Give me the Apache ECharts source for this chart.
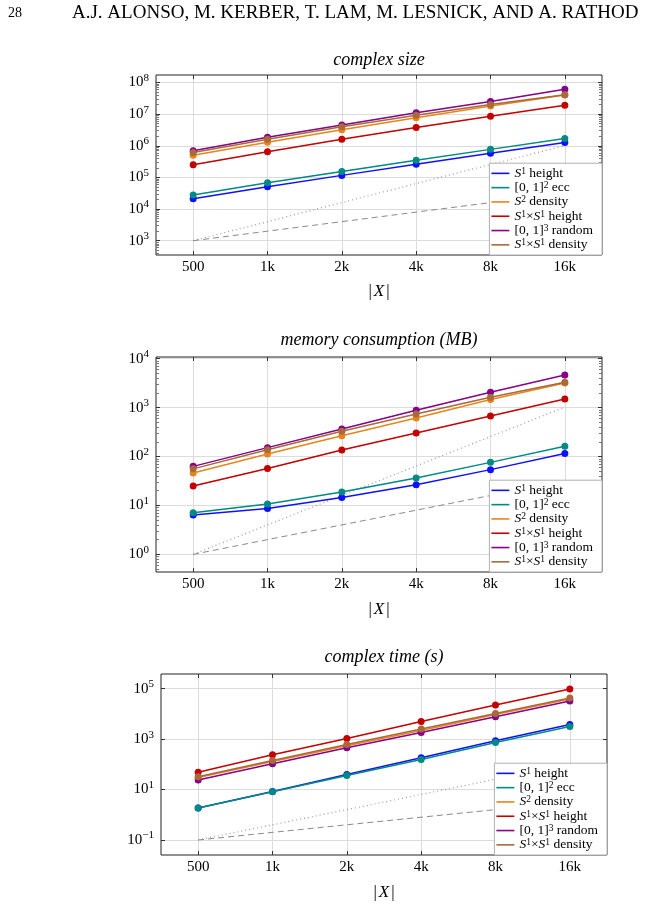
<!DOCTYPE html>
<html>
<head>
<meta charset="utf-8">
<script src="https://cdn.jsdelivr.net/npm/echarts@6/dist/echarts.min.js"></script>
<style>
  html, body { margin: 0; background: #fff; }
  #main { width: 647px; height: 906px; }
</style>
</head>
<body>
<div id="main"></div>
<script>
// x: number of points |X|
var xValues = [500, 1000, 2000, 4000, 8000, 16000];
var xLabels = ['500', '1k', '2k', '4k', '8k', '16k'];

var seriesNames = ['S1 height', '[0,1]2 ecc', 'S2 density', 'S1xS1 height', '[0,1]3 random', 'S1xS1 density'];
var seriesColors = ['#1010ff', '#008a85', '#e8841c', '#c40000', '#86008a', '#a9693a'];
var legendLabels = {
  'S1 height': '{i|S}{s|1} height',
  '[0,1]2 ecc': '[0, 1]{s|2} ecc',
  'S2 density': '{i|S}{s|2} density',
  'S1xS1 height': '{i|S}{s|1}×{i|S}{s|1} height',
  '[0,1]3 random': '[0, 1]{s|3} random',
  'S1xS1 density': '{i|S}{s|1}×{i|S}{s|1} density'
};

// complex size
var sizeS1Height     = [2.1e4, 5.1e4, 1.16e5, 2.6e5, 5.8e5, 1.26e6];
var sizeSquareEcc    = [2.8e4, 6.8e4, 1.55e5, 3.5e5, 7.7e5, 1.7e6];
var sizeS2Density    = [5.0e5, 1.3e6, 3.2e6, 7.7e6, 1.8e7, 4.0e7];
var sizeTorusHeight  = [2.5e5, 6.5e5, 1.6e6, 3.8e6, 8.6e6, 1.9e7];
var sizeCubeRandom   = [7.0e5, 1.86e6, 4.5e6, 1.1e7, 2.5e7, 6.1e7];
var sizeTorusDensity = [6.1e5, 1.6e6, 4.0e6, 9.3e6, 2.0e7, 4.1e7];
var sizeQuad = [1e3, 4e3, 1.6e4, 6.4e4, 2.56e5, 1.024e6];
var sizeLin  = [1e3, 2e3, 4e3, 8e3, 1.6e4, 3.2e4];
var sizeTicks = [1e3, 1e4, 1e5, 1e6, 1e7, 1e8];

// memory consumption (MB)
var memS1Height     = [6.4, 8.7, 14.6, 26.6, 54, 115];
var memSquareEcc    = [7.1, 10.7, 18.8, 36.5, 76, 162];
var memS2Density    = [46, 113, 267, 615, 1460, 3190];
var memTorusHeight  = [25, 57, 136, 303, 676, 1500];
var memCubeRandom   = [63, 152, 366, 881, 2060, 4660];
var memTorusDensity = [56, 138, 328, 741, 1630, 3300];
var memQuad = [1, 4, 16, 64, 256, 1024];
var memLin  = [1, 2, 4, 8, 16, 32];
var memTicks = [1, 10, 100, 1000, 10000];

// complex time (s)
var timeS1Height     = [1.87, 8.3, 39.5, 181, 860, 3830];
var timeSquareEcc    = [1.86, 8.2, 36, 156, 738, 3180];
var timeS2Density    = [30, 129, 544, 2210, 9550, 38900];
var timeTorusHeight  = [49, 238, 1060, 5030, 22400, 97000];
var timeCubeRandom   = [24, 105, 453, 1840, 7710, 32400];
var timeTorusDensity = [32, 142, 614, 2500, 10500, 42500];
var timeQuad = [0.1, 0.4, 1.6, 6.4, 25.6, 102.4];
var timeLin  = [0.1, 0.2, 0.4, 0.8, 1.6, 3.2];
var timeTicks = [0.1, 10, 1000, 100000];

var FONT = '"Liberation Serif", "DejaVu Serif", serif';

function minorOf(ticks, lo, hi) {
  var out = [];
  for (var d = -3; d <= 9; d++) {
    for (var k = 2; k <= 9; k++) {
      var v = k * Math.pow(10, d);
      if (v > lo && v < hi) out.push(v);
    }
  }
  return out;
}

function powLabel(v) {
  var e = Math.round(Math.log10(v));
  return '{b|10}{s|' + (e < 0 ? '−' + (-e) : e) + '}';
}

function xLabel(v) {
  var best = 0;
  for (var j = 1; j < xValues.length; j++) {
    if (Math.abs(Math.log(v / xValues[j])) < Math.abs(Math.log(v / xValues[best]))) best = j;
  }
  return xLabels[best];
}

var charts = [
  { title: 'complex size', grid: { left: 156, top: 75, width: 446, height: 180 },
    yMin: 353, yMax: 1.726e8, ticks: sizeTicks, minor: true,
    data: [sizeS1Height, sizeSquareEcc, sizeS2Density, sizeTorusHeight, sizeCubeRandom, sizeTorusDensity],
    quad: sizeQuad, lin: sizeLin, titleY: 60, nameY: 292, legend: { right: 45, bottom: 651 } },
  { title: 'memory consumption (MB)', grid: { left: 156, top: 357, width: 446, height: 215 },
    yMin: 0.436, yMax: 10840, ticks: memTicks, minor: true,
    data: [memS1Height, memSquareEcc, memS2Density, memTorusHeight, memCubeRandom, memTorusDensity],
    quad: memQuad, lin: memLin, titleY: 340, nameY: 610, legend: { right: 45, bottom: 334 } },
  { title: 'complex time (s)', grid: { left: 161, top: 674, width: 446, height: 181 },
    yMin: 0.02535, yMax: 383700, ticks: timeTicks, minor: false,
    data: [timeS1Height, timeSquareEcc, timeS2Density, timeTorusHeight, timeCubeRandom, timeTorusDensity],
    quad: timeQuad, lin: timeLin, titleY: 657, nameY: 893, legend: { right: 40, bottom: 51 } }
];

var grids = [], xAxes = [], yAxes = [], series = [], legends = [], graphics = [];

charts.forEach(function (c, i) {
  grids.push({
    left: c.grid.left, top: c.grid.top, width: c.grid.width, height: c.grid.height,
    show: true, borderColor: '#222', borderWidth: 1, backgroundColor: 'transparent',
    outerBoundsMode: 'none'
  });

  var xIndex = xAxes.length;
  ['bottom', 'top'].forEach(function (pos) {
    xAxes.push({
      type: 'log', logBase: 2, gridIndex: i, position: pos,
      min: 353.55, max: 22627.4,
      axisLine: { show: false },
      axisTick: { show: true, inside: true, length: 4, customValues: xValues, lineStyle: { color: '#333' } },
      axisLabel: pos === 'bottom' ? {
        customValues: xValues, formatter: xLabel, margin: 5,
        fontFamily: FONT, fontSize: 15, color: '#000'
      } : { show: false },
      splitLine: { show: pos === 'bottom', lineStyle: { color: '#dcdcdc', width: 1 } }
    });
  });

  var yIndex = yAxes.length;
  var minor = c.minor ? minorOf(c.ticks, c.yMin, c.yMax) : [];
  ['left', 'right'].forEach(function (pos) {
    yAxes.push({
      type: 'log', logBase: 10, gridIndex: i, position: pos,
      min: c.yMin, max: c.yMax,
      axisLine: { show: false },
      axisTick: { show: true, inside: true, length: 4, customValues: c.ticks, lineStyle: { color: '#333' } },
      axisLabel: pos === 'left' ? {
        customValues: c.ticks, formatter: powLabel, margin: 7, color: '#000',
        rich: {
          b: { fontFamily: FONT, fontSize: 15, lineHeight: 20, color: '#000' },
          s: { fontFamily: FONT, fontSize: 11, lineHeight: 12, verticalAlign: 'top', color: '#000' }
        }
      } : { show: false },
      splitLine: { show: pos === 'left', lineStyle: { color: '#dcdcdc', width: 1 } }
    });
    if (minor.length) {
      yAxes.push({
        type: 'log', logBase: 10, gridIndex: i, position: pos,
        min: c.yMin, max: c.yMax,
        axisLine: { show: false },
        axisTick: { show: true, inside: true, length: 3, customValues: minor, lineStyle: { color: '#777' } },
        axisLabel: { show: false },
        splitLine: { show: false }
      });
    }
  });

  series.push({
    name: 'quadratic', type: 'line', xAxisIndex: xIndex, yAxisIndex: yIndex,
    data: xValues.map(function (x, j) { return [x, c.quad[j]]; }),
    showSymbol: false, silent: true, z: 1,
    lineStyle: { color: '#9a9a9a', width: 1.2, type: [1, 3] }
  });
  series.push({
    name: 'linear', type: 'line', xAxisIndex: xIndex, yAxisIndex: yIndex,
    data: xValues.map(function (x, j) { return [x, c.lin[j]]; }),
    showSymbol: false, silent: true, z: 1,
    lineStyle: { color: '#8a8a8a', width: 1, type: [6, 4] }
  });
  c.data.forEach(function (arr, k) {
    series.push({
      name: seriesNames[k], type: 'line', xAxisIndex: xIndex, yAxisIndex: yIndex,
      data: xValues.map(function (x, j) { return [x, arr[j]]; }),
      color: seriesColors[k], symbol: 'circle', symbolSize: 7, z: 3,
      lineStyle: { width: 1.5 }, itemStyle: { color: seriesColors[k] }
    });
  });

  legends.push({
    orient: 'vertical', right: c.legend.right, bottom: c.legend.bottom,
    data: seriesNames, icon: 'rect', itemWidth: 18, itemHeight: 1.6, itemGap: 0,
    padding: [3, 9, 3, 2], backgroundColor: '#fff', borderColor: '#b0b0b0', borderWidth: 1,
    selectedMode: false, z: 10,
    formatter: function (name) { return legendLabels[name]; },
    textStyle: {
      fontFamily: FONT, fontSize: 13.5, lineHeight: 14.3, color: '#000',
      rich: {
        i: { fontFamily: FONT, fontStyle: 'italic', fontSize: 13.5, lineHeight: 14.3, color: '#000' },
        s: { fontFamily: FONT, fontSize: 9.5, lineHeight: 9, verticalAlign: 'top', color: '#000' }
      }
    }
  });

  var cx = c.grid.left + c.grid.width / 2;
  graphics.push({
    type: 'text', x: cx, y: c.titleY,
    style: { text: c.title, font: 'italic 18px ' + FONT, fill: '#000',
             align: 'center', verticalAlign: 'middle', textAlign: 'center', textVerticalAlign: 'middle' }
  });
  graphics.push({
    type: 'text', x: cx, y: c.nameY,
    style: { text: '|{i|X}|', font: '17px ' + FONT, fill: '#000',
             align: 'center', verticalAlign: 'middle', textAlign: 'center', textVerticalAlign: 'middle',
             rich: { i: { fontFamily: FONT, fontStyle: 'italic', fontSize: 17, padding: [0, 2] } } }
  });
});

// running head
graphics.push({
  type: 'text', x: 8, y: 13,
  style: { text: '28', font: '14px ' + FONT, fill: '#000', verticalAlign: 'middle', textVerticalAlign: 'middle' }
});
graphics.push({
  type: 'text', x: 72, y: 13,
  style: { text: 'A.J. ALONSO, M. KERBER, T. LAM, M. LESNICK, AND A. RATHOD', font: '19px ' + FONT,
           fill: '#000', verticalAlign: 'middle', textVerticalAlign: 'middle' }
});

var myChart = echarts.init(document.getElementById('main'));
myChart.setOption({
  animation: false,
  backgroundColor: '#fff',
  grid: grids,
  xAxis: xAxes,
  yAxis: yAxes,
  legend: legends,
  series: series,
  graphic: graphics
});
</script>
</body>
</html>
